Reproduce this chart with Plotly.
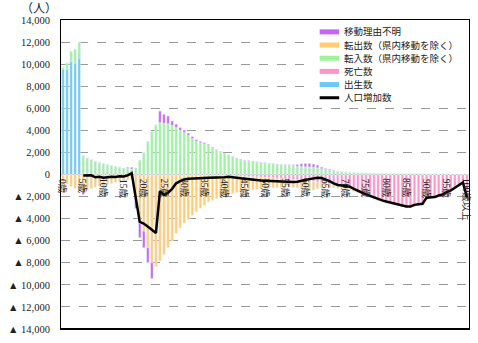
import plotly.graph_objects as go

ages = [f"{i}歳" for i in range(100)] + ["100歳以上"]
label_ages = [f"{i}歳" for i in range(0, 100, 5)] + ["100歳以上"]

birth = [9550, 9550, 10250, 10100, 10550] + [0] * 96

move_in = [170, 550, 900, 1270, 1450, 1700, 1500, 1350, 1200, 1100,
           1000, 900, 820, 750, 680, 600, 550, 500, 600, 1300,
           2000, 3000, 3900, 4500, 4700, 4650, 4600, 4450, 4250, 4000,
           3800, 3550, 3250, 3000, 2870, 2780, 2630, 2400, 2200, 2030,
           1880, 1730, 1580, 1450, 1330, 1270, 1230, 1170, 1120, 1080,
           1050, 1000, 960, 920, 890, 860, 840, 820, 760, 720,
           700, 680, 650, 600, 520, 450, 390, 340, 290, 250,
           220, 200, 180, 160, 150, 140, 130, 120, 110, 100,
           95, 90, 85, 80, 75, 70, 65, 60, 55, 50,
           45, 40, 35, 30, 25, 20, 15, 12, 10, 8, 10]

move_out = [-600, -850, -1050, -1250, -1450, -1500, -1400, -1250, -1150, -1050,
            -950, -880, -800, -700, -620, -520, -450, -400, -2150, -4400,
            -5100, -6600, -7950, -8300, -7800, -7200, -6600, -6000, -5300, -4800,
            -4350, -4000, -3650, -3300, -3000, -2700, -2400, -2250, -2100, -1950,
            -1800, -1700, -1600, -1500, -1420, -1330, -1250, -1180, -1120, -1060,
            -1000, -950, -900, -860, -820, -780, -740, -720, -720, -760,
            -850, -880, -760, -600, -500, -380, -330, -300, -270, -240,
            -220, -200, -190, -180, -170, -160, -150, -140, -130, -120,
            -115, -110, -105, -100, -95, -90, -85, -80, -75, -70,
            -65, -60, -55, -50, -45, -40, -35, -30, -25, -20, -40]

deaths = [-60, -15, -15, -15, -15, -15, -15, -15, -15, -15,
          -20, -20, -20, -20, -20, -20, -20, -20, -20, -20,
          -35, -35, -35, -35, -35, -35, -35, -35, -35, -35,
          -50, -50, -50, -50, -50, -80, -80, -80, -80, -80,
          -100, -110, -120, -135, -150, -170, -190, -210, -230, -250,
          -270, -290, -310, -340, -370, -400, -430, -460, -490, -520,
          -550, -600, -650, -700, -750, -800, -860, -920, -980, -1050,
          -1120, -1200, -1350, -1500, -1650, -1800, -1950, -2100, -2250, -2350,
          -2450, -2550, -2650, -2750, -2850, -2900, -2900, -2800, -2750, -2700,
          -2200, -2100, -2050, -1950, -1850, -1650, -1500, -1250, -1000, -780, -2050]

unknown = [0, 0, 0, 0, 0, -300, 0, 0, 0, 0,
           -60, 0, 0, 0, 0, -60, 100, 150, -900, -1300,
           -1500, -1350, -1450, 0, 1050, 800, 700, 400, 320, 260,
           220, 200, 180, 150, 130, 110, 100, 80, 60, 60,
           50, 50, 50, 50, 50, 40, 40, 40, 30, 30,
           30, 30, 30, 30, 30, 30, 40, 60, 150, 250,
           300, 320, 300, 250, 150, 100, 80, 60, 0, 0,
           0, 0, 0, 0, 0, 0, 0, 0, 0, 0,
           0, 0, 0, 0, 0, 0, 0, 0, 0, 0,
           0, 0, 0, 0, 0, 0, 0, 0, 0, 0, 0]

net = [None, None, None, None, None, -100, -120, -80, -250, -200,
       -300, -250, -200, -230, -150, -180, -80, 120, -1900, -4300,
       -4450, -4700, -5000, -5300, -1500, -1850, -1650, -1300, -800, -600,
       -450, -380, -350, -330, -330, -320, -300, -300, -290, -280,
       -250, -200, -220, -300, -350, -400, -450, -500, -520, -540,
       -560, -580, -600, -620, -640, -660, -670, -680, -650, -600,
       -500, -420, -350, -300, -320, -450, -600, -800, -950, -1000,
       -1050, -1100, -1300, -1500, -1650, -1800, -1950, -2100, -2250, -2350,
       -2450, -2550, -2650, -2750, -2850, -2900, -2900, -2750, -2700, -2650,
       -2100, -2050, -2050, -1900, -1800, -1600, -1450, -1200, -950, -720, -2100]

ytick_vals = [14000, 12000, 10000, 8000, 6000, 4000, 2000, 0,
              -2000, -4000, -6000, -8000, -10000, -12000, -14000]
ytick_text = ["14,000", "12,000", "10,000", "8,000", "6,000", "4,000", "2,000", "0",
              "▲ 2,000", "▲ 4,000", "▲ 6,000", "▲ 8,000", "▲ 10,000", "▲ 12,000", "▲ 14,000"]

names = ["移動理由不明", "転出数（県内移動を除く）", "転入数（県内移動を除く）", "死亡数", "出生数", "人口増加数"]
C_PURPLE = "#C466F2"
C_ORANGE = "#FFCC70"
C_GREEN = "#9EF29E"
C_PINK = "#FF94C8"
C_BLUE = "#6CC8F2"
legend_colors = [C_PURPLE, C_ORANGE, C_GREEN, C_PINK, C_BLUE, "black"]

W, H = 478, 343
ML, MR, MT, MB = 52, 8, 20, 11
PW, PH = W - ML - MR, H - MT - MB


def px_x(x):
    return (x - ML) / PW


def px_y(y):
    return (H - MB - y) / PH


fig = go.Figure()
# stacking order: nearest axis first
fig.add_trace(go.Bar(x=ages, y=birth, marker_color=C_BLUE, name=names[4]))
fig.add_trace(go.Bar(x=ages, y=deaths, marker_color=C_PINK, name=names[3]))
fig.add_trace(go.Bar(x=ages, y=move_in, marker_color=C_GREEN, name=names[2]))
fig.add_trace(go.Bar(x=ages, y=move_out, marker_color=C_ORANGE, name=names[1]))
fig.add_trace(go.Bar(x=ages, y=unknown, marker_color=C_PURPLE, name=names[0]))
fig.add_trace(go.Scatter(x=ages, y=net, mode="lines", line=dict(color="black", width=2.5),
                         name=names[5], connectgaps=False))

font_fam = "Liberation Serif, Noto Sans CJK JP, serif"
annotations = []
for lab in label_ages:
    annotations.append(dict(x=lab, y=0, xref="x", yref="y", text=lab, showarrow=False,
                            textangle=90, xanchor="center", yanchor="top", yshift=-2,
                            font=dict(size=9.5, family=font_fam, color="#222")))

shapes = [dict(type="line", xref="paper", yref="paper", x0=0, x1=1, y0=0, y1=0,
               line=dict(color="black", width=2))]
# legend box (drawn by hand to match compact row spacing)
shapes.append(dict(type="rect", xref="paper", yref="paper", x0=px_x(303), x1=px_x(469),
                   y0=px_y(105), y1=px_y(21), fillcolor="white", line=dict(width=0), layer="above"))
row_y = [32, 45.3, 58.6, 71.9, 85.2, 98.5]
for nm, col, ry in zip(names, legend_colors, row_y):
    shapes.append(dict(type="line", xref="paper", yref="paper", x0=px_x(317), x1=px_x(337),
                       y0=px_y(ry), y1=px_y(ry), layer="above",
                       line=dict(color=col, width=3 if col == "black" else 5)))
    annotations.append(dict(x=px_x(340), y=px_y(ry), xref="paper", yref="paper", text=nm,
                            showarrow=False, xanchor="left", yanchor="middle",
                            font=dict(size=9.5, family=font_fam, color="#222")))

fig.update_layout(
    width=W, height=H,
    margin=dict(l=ML, r=MR, t=MT, b=MB),
    barmode="relative", bargap=0.4,
    plot_bgcolor="white", paper_bgcolor="white",
    font=dict(family=font_fam, size=10, color="#222"),
    showlegend=False,
    title=dict(text="（人）", xref="container", yref="container", x=21 / W, xanchor="left",
               y=1 - 9 / H, yanchor="middle", pad=dict(t=0, l=0, r=0, b=0),
               font=dict(size=12, family=font_fam, color="#222")),
    annotations=annotations,
    shapes=shapes,
)
fig.update_xaxes(type="category", range=[-0.5, 100.5], showticklabels=False, showgrid=False,
                 showline=True, linecolor="black", linewidth=1, mirror=True, ticks="")
fig.update_yaxes(range=[-14000, 14000], tickvals=ytick_vals, ticktext=ytick_text,
                 showgrid=True, gridcolor="#999", griddash="dash", gridwidth=1,
                 showline=True, linecolor="black", linewidth=1, mirror=True, ticks="",
                 ticklabelstandoff=8, zeroline=True, zerolinecolor="#aaa", zerolinewidth=1,
                 tickfont=dict(size=10.5, family=font_fam))

fig.write_html("out.html")
